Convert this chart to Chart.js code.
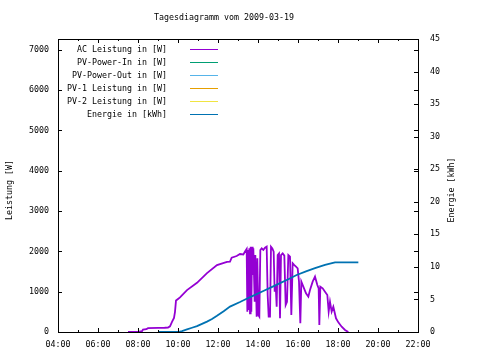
<!DOCTYPE html>
<html>
<head>
<meta charset="utf-8">
<script src="https://cdn.jsdelivr.net/npm/chart.js@4/dist/chart.umd.min.js"></script>
<style>
  html, body { margin: 0; padding: 0; background: #ffffff; }
  #wrap { width: 480px; height: 360px; }
</style>
</head>
<body>
<div id="wrap"><canvas id="c" width="480" height="360"></canvas></div>
<script>
// ---- data (x in minutes since midnight) ----
const chartTitle = 'Tagesdiagramm vom 2009-03-19';
const leftAxisTitle = 'Leistung [W]';
const rightAxisTitle = 'Energie [kWh]';

const seriesLabels = ['AC Leistung in [W]', 'PV-Power-In in [W]', 'PV-Power-Out in [W]',
                      'PV-1 Leistung in [W]', 'PV-2 Leistung in [W]', 'Energie in [kWh]'];
const seriesColors = ['#9400d3', '#009e73', '#56b4e9', '#e69f00', '#f0e442', '#0072b2'];

const acMinutes = [450,480,492,495,505,510,540,560,570,576,582,588,591,594,600,606,627,657,687,717,747,756,761,776,786,796,802,806,808,810,812,814,816,818,820,822,824,826,830,832,836,838,841,844,847,851,856,861,866,869,872,876,879,883,887,890,893,896,899,903,906,909,914,919,923,927,931,936,940,944,949,954,959,963,967,970,976,984,991,996,1004,1011,1018,1022,1024,1027,1034,1041,1048,1052,1056,1061,1066,1074,1081,1091,1101,1111];
const acWatts   = [0,5,20,60,70,95,100,105,110,140,250,350,500,780,820,860,1040,1220,1460,1660,1740,1745,1845,1885,1935,1925,2010,2060,505,2035,545,2075,463,2117,505,2117,1414,2075,750,1910,380,1830,420,380,2035,2075,2035,2090,2117,918,380,380,2117,2075,1993,1000,1166,628,1910,1950,340,1910,1950,1894,670,750,1910,1870,420,1704,1660,1620,1580,1250,215,1250,1125,960,877,1042,1250,1373,1166,1083,174,1125,1083,1000,918,505,750,505,628,340,240,132,50,0];

const energyMinutes = [540,600,612,627,642,657,672,687,702,717,737,756,786,806,831,856,881,906,931,956,986,1011,1041,1071,1141];
const energyKWh     = [0,0,0.15,0.4,0.65,0.9,1.25,1.6,2.0,2.5,3.2,3.9,4.6,5.1,5.7,6.3,6.9,7.5,8.1,8.75,9.35,9.8,10.3,10.7,10.7];

const xTickValues  = [240,360,480,600,720,840,960,1080,1200,1320];
const yTickValues  = [0,1000,2000,3000,4000,5000,6000,7000];
const y2TickValues = [0,5,10,15,20,25,30,35,40,45];

const FONT = 'DejaVu Sans Mono';
const FSIZE = 8.3;

function pts(xs, ys) { return xs.map((x, i) => ({ x: x, y: ys[i] })); }
function fmtTime(v) { return String(Math.round(v / 60)).padStart(2, '0') + ':00'; }

const datasets = seriesLabels.map((lab, i) => ({
  label: lab,
  data: [],
  borderColor: seriesColors[i],
  backgroundColor: seriesColors[i],
  borderWidth: 1.8,
  pointRadius: 0,
  tension: 0,
  fill: false,
  yAxisID: 'y',
  order: 1
}));
datasets[0].data = pts(acMinutes, acWatts);
datasets[5].data = pts(energyMinutes, energyKWh);
datasets[5].yAxisID = 'y2';
datasets[5].order = 0;

const decor = {
  id: 'decor',
  afterDraw(chart) {
    const ctx = chart.ctx;
    const a = chart.chartArea;
    const xs = chart.scales.x, ys = chart.scales.y, y2s = chart.scales.y2;
    ctx.save();
    ctx.strokeStyle = '#000';
    ctx.lineWidth = 1;
    // frame
    ctx.strokeRect(a.left + 0.5, a.top + 0.5, a.right - a.left, a.bottom - a.top);
    ctx.beginPath();
    // x ticks (major + minor), bottom and mirrored top
    const xt = xs.ticks.map(t => t.value);
    xt.forEach((v, i) => {
      const px = Math.round(xs.getPixelForValue(v)) + 0.5;
      ctx.moveTo(px, a.bottom); ctx.lineTo(px, a.bottom - 4);
      ctx.moveTo(px, a.top); ctx.lineTo(px, a.top + 4);
      if (i < xt.length - 1) {
        const mx = Math.round(xs.getPixelForValue((v + xt[i + 1]) / 2)) + 0.5;
        ctx.moveTo(mx, a.bottom); ctx.lineTo(mx, a.bottom - 2);
        ctx.moveTo(mx, a.top); ctx.lineTo(mx, a.top + 2);
      }
    });
    // y ticks left, mirrored right
    ys.ticks.forEach(t => {
      const py = Math.round(ys.getPixelForValue(t.value)) + 0.5;
      ctx.moveTo(a.left, py); ctx.lineTo(a.left + 4, py);
      ctx.moveTo(a.right, py); ctx.lineTo(a.right - 4, py);
    });
    // y2 ticks right
    y2s.ticks.forEach(t => {
      const py = Math.round(y2s.getPixelForValue(t.value)) + 0.5;
      ctx.moveTo(a.right, py); ctx.lineTo(a.right - 4, py);
    });
    ctx.stroke();

    // texts
    ctx.fillStyle = '#000';
    ctx.font = FSIZE + 'px "' + FONT + '"';
    ctx.textBaseline = 'middle';
    ctx.textAlign = 'center';
    ctx.fillText(chartTitle, 224, 18);
    ctx.save();
    ctx.translate(10, 190); ctx.rotate(-Math.PI / 2);
    ctx.fillText(leftAxisTitle, 0, 0);
    ctx.restore();
    ctx.save();
    ctx.translate(452, 190); ctx.rotate(-Math.PI / 2);
    ctx.fillText(rightAxisTitle, 0, 0);
    ctx.restore();

    // legend
    chart.data.datasets.forEach((ds, i) => {
      const ry = 49.5 + 13 * i;
      ctx.textAlign = 'right';
      ctx.fillStyle = '#000';
      ctx.fillText(ds.label, 167, ry);
      ctx.strokeStyle = ds.borderColor;
      ctx.lineWidth = 1;
      ctx.beginPath();
      ctx.moveTo(190, ry); ctx.lineTo(218, ry);
      ctx.stroke();
    });
    ctx.restore();
  }
};

new Chart(document.getElementById('c'), {
  type: 'line',
  data: { datasets: datasets },
  options: {
    responsive: false,
    animation: false,
    layout: { padding: { top: 39, left: 0, right: 0, bottom: 0 } },
    plugins: { legend: { display: false }, title: { display: false }, tooltip: { enabled: false } },
    scales: {
      x: {
        type: 'linear', position: 'bottom', min: 240, max: 1320,
        afterBuildTicks: s => { s.ticks = xTickValues.map(v => ({ value: v })); },
        afterFit: s => { s.height = 28; },
        grid: { display: false, drawTicks: false }, border: { display: false },
        ticks: { autoSkip: false, maxRotation: 0, minRotation: 0, padding: 8, color: '#000',
                 font: { family: FONT, size: FSIZE }, callback: v => fmtTime(v) }
      },
      y: {
        type: 'linear', position: 'left', min: 0, max: 7270,
        afterBuildTicks: s => { s.ticks = yTickValues.map(v => ({ value: v })); },
        afterFit: s => { s.width = 58; },
        grid: { display: false, drawTicks: false }, border: { display: false },
        ticks: { padding: 9, color: '#000', font: { family: FONT, size: FSIZE }, callback: v => String(v) }
      },
      y2: {
        type: 'linear', position: 'right', min: 0, max: 45,
        afterBuildTicks: s => { s.ticks = y2TickValues.map(v => ({ value: v })); },
        afterFit: s => { s.width = 62; },
        grid: { display: false, drawTicks: false }, border: { display: false },
        ticks: { padding: 12, color: '#000', font: { family: FONT, size: FSIZE }, callback: v => String(v) }
      }
    }
  },
  plugins: [decor]
});
</script>
</body>
</html>
